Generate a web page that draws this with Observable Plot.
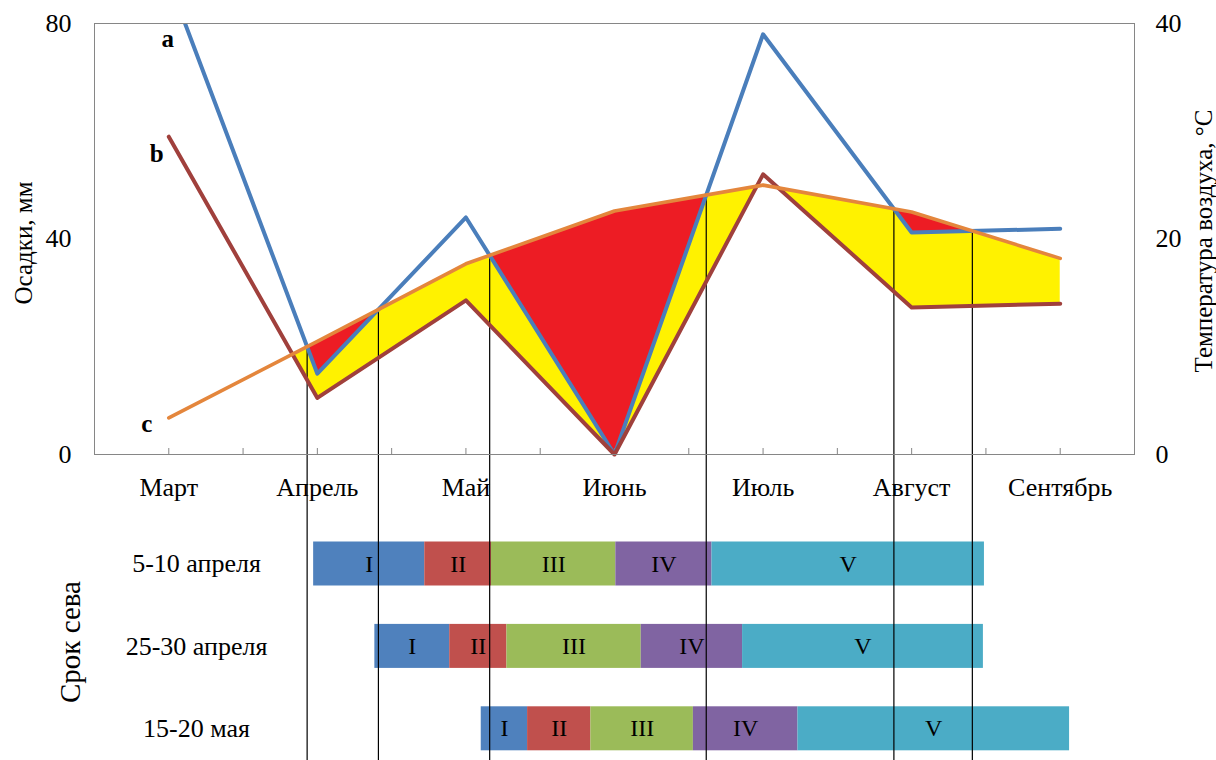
<!DOCTYPE html>
<html>
<head>
<meta charset="utf-8">
<script src="https://cdn.jsdelivr.net/npm/d3@7"></script>
<script src="https://cdn.jsdelivr.net/npm/@observablehq/plot@0.6"></script>
<style>
  html, body { margin: 0; padding: 0; background: #fff; }
  #chart { width: 1216px; height: 760px; overflow: hidden; }
  #chart svg { display: block; }
</style>
</head>
<body>
<div id="chart"></div>
<script>
// Monthly series: precipitation (mm) for curves a and b, air temperature (°C) for curve c
const months = ["Март", "Апрель", "Май", "Июнь", "Июль", "Август", "Сентябрь"];
const precipA = [88, 15, 44, 0, 78, 41.2, 41.9];
const precipB = [59, 10.5, 28.6, 0, 52, 27.3, 28];
const airTemp = [3.4, 10.5, 17.7, 22.6, 25.0, 22.5, 18.2];
const precipTicks = [0, 40, 80];
const tempTicks = [0, 20, 40];
const seriesNames = ["a", "b", "c"];

// Development phases for each sowing term; boundaries in months counted from March
const sowingTerms = ["5-10 апреля", "25-30 апреля", "15-20 мая"];
const phases = ["I", "II", "III", "IV", "V"];
const phaseBounds1 = [0.975, 1.723, 2.172, 3.009, 3.656, 5.490];
const phaseBounds2 = [1.387, 1.891, 2.276, 3.180, 3.862, 5.483];
const phaseBounds3 = [2.103, 2.415, 2.841, 3.531, 4.235, 6.063];

// 1 °C corresponds to 2 mm of precipitation on the shared vertical scale
const mmPerDegree = 2;
const precipMax = precipTicks[precipTicks.length - 1];

const rows = months.map((m, i) => ({i, m, a: precipA[i], b: precipB[i], c: airTemp[i] * mmPerDegree}));

// Points where curve a crosses the temperature curve c (edges of the dry spells)
const crossings = [];
for (let i = 0; i < rows.length - 1; i++) {
  const d0 = rows[i].a - rows[i].c, d1 = rows[i + 1].a - rows[i + 1].c;
  if (d0 * d1 < 0) {
    const t = d0 / (d0 - d1);
    crossings.push({x: i + t, y: rows[i].c + t * (rows[i + 1].c - rows[i].c)});
  }
}

const halfTicks = d3.range(0, months.length - 0.75, 0.5);
const xDomain = [-0.5, months.length - 0.5];

const boundsByTerm = [phaseBounds1, phaseBounds2, phaseBounds3];
const segments = sowingTerms.flatMap((term, r) =>
  phases.map((phase, k) => ({term, phase, x1: boundsByTerm[r][k], x2: boundsByTerm[r][k + 1]}))
);

const font = "'Liberation Serif', 'Times New Roman', serif";
const W = 1216;
const frameColor = "#868686";
const topBottomMargin = 61;

const topChart = Plot.plot({
  width: W,
  height: 515,
  marginLeft: 94,
  marginRight: 82,
  marginTop: 23,
  marginBottom: topBottomMargin,
  style: {fontFamily: font, fontSize: "26px", color: "#000", background: "#fff"},
  x: {domain: xDomain},
  y: {domain: [0, precipMax]},
  marks: [
    // yellow: between b and c; red: between a and c; everything above c is wiped white
    Plot.areaY(rows, {x: "i", y1: "b", y2: "c", fill: "#fff200", clip: true}),
    Plot.areaY(rows, {x: "i", y1: "a", y2: "c", fill: "#ed1c24", clip: true}),
    Plot.areaY(rows, {x: "i", y1: "c", y2: () => precipMax, fill: "#fff", stroke: "#fff", strokeWidth: 1.5, clip: true}),
    Plot.ruleX(halfTicks, {y1: 0, y2: 0, insetTop: -6, stroke: frameColor}),
    Plot.axisX({ticks: d3.range(months.length), tickFormat: (i) => months[i], tickSize: 0, tickPadding: 23, label: null}),
    Plot.axisY({ticks: precipTicks, tickSize: 0, tickPadding: 23, label: null}),
    Plot.axisY({anchor: "right", ticks: tempTicks.map((t) => t * mmPerDegree), tickFormat: (v) => v / mmPerDegree, tickSize: 0, tickPadding: 21, label: null}),
    Plot.text(["Осадки, мм"], {frameAnchor: "left", textAnchor: "middle", dx: -71, dy: 4, rotate: -90, fontSize: 25}),
    Plot.text(["Температура воздуха, °С"], {frameAnchor: "right", textAnchor: "middle", dx: 69, dy: 2, rotate: -90, fontSize: 25}),
    Plot.ruleX(crossings, {x: "x", y1: 0, y2: "y", insetTop: topBottomMargin, stroke: "#000", strokeWidth: 1.2}),
    Plot.line(rows, {x: "i", y: "a", stroke: "#4a7ebb", strokeWidth: 4, clip: true}),
    Plot.line(rows, {x: "i", y: "b", stroke: "#a0403c", strokeWidth: 4}),
    Plot.line(rows, {x: "i", y: "c", stroke: "#e4863c", strokeWidth: 3.6}),
    Plot.text([seriesNames[0]], {x: 0, y: precipMax, dx: -1, dy: 15, fontWeight: "bold", fontSize: 25}),
    Plot.text([seriesNames[1]], {x: 0, y: rows[0].b, dx: -12, dy: 17, fontWeight: "bold", fontSize: 25}),
    Plot.text([seriesNames[2]], {x: 0, y: rows[0].c, dx: -22, dy: 6, fontWeight: "bold", fontSize: 25}),
    Plot.frame({stroke: frameColor})
  ]
});

const bottomChart = Plot.plot({
  width: W,
  height: 245,
  marginLeft: 94,
  marginRight: 82,
  marginTop: 0,
  marginBottom: 0,
  style: {fontFamily: font, fontSize: "26px", color: "#000", background: "#fff"},
  x: {domain: xDomain, axis: null},
  y: {domain: sowingTerms, range: [26.5, 235.3], paddingInner: 0.466, paddingOuter: 0, round: false, axis: null},
  color: {domain: phases, range: ["#4f81bd", "#c0504d", "#9bbb59", "#8064a2", "#4bacc6"]},
  marks: [
    Plot.barX(segments, {y: "term", x1: "x1", x2: "x2", fill: "phase"}),
    Plot.text(segments, {y: "term", x: (d) => (d.x1 + d.x2) / 2, text: "phase", fontSize: 24}),
    Plot.text(sowingTerms, {y: (d) => d, frameAnchor: "left", textAnchor: "middle", dx: 102}),
    Plot.text(["Срок сева"], {frameAnchor: "left", textAnchor: "middle", dx: -24, dy: 4, rotate: -90, fontSize: 29}),
    Plot.ruleX(crossings, {x: "x", stroke: "#000", strokeWidth: 1.2})
  ]
});

const chart = document.getElementById("chart");
chart.append(topChart, bottomChart);
</script>
</body>
</html>
